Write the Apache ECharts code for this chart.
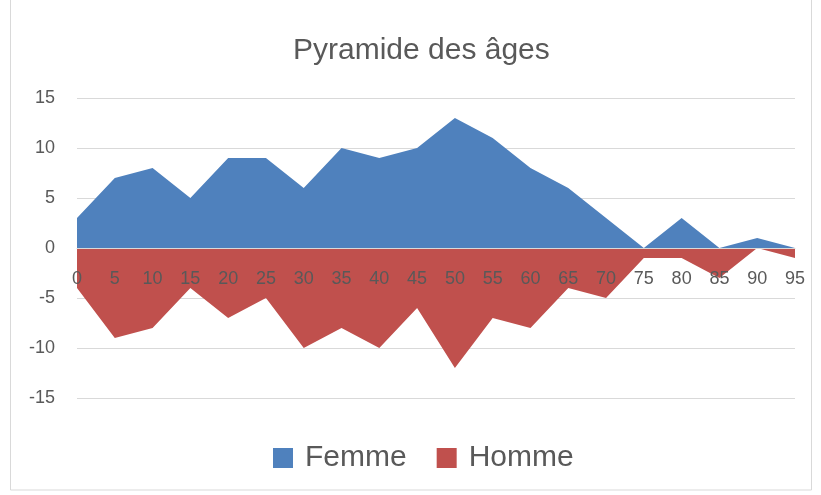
<!DOCTYPE html>
<html>
<head>
<meta charset="utf-8">
<script src="https://cdn.jsdelivr.net/npm/echarts@6/dist/echarts.min.js"></script>
<style>
  html, body { margin: 0; padding: 0; background: #fff; }
  #chart { width: 821px; height: 495px; }
</style>
</head>
<body>
<div id="chart"></div>
<script>
// age groups on the x axis
const ages = ['0', '5', '10', '15', '20', '25', '30', '35', '40', '45',
  '50', '55', '60', '65', '70', '75', '80', '85', '90', '95'];
const femme = [3, 7, 8, 5, 9, 9, 6, 10, 9, 10, 13, 11, 8, 6, 3, 0, 3, 0, 1, 0];
const homme = [-4, -9, -8, -4, -7, -5, -10, -8, -10, -6, -12, -7, -8, -4, -5, -1, -1, -3, 0, -1];

const font = 'Liberation Sans, Noto Sans, sans-serif';
const textColor = '#595959';

const chart = echarts.init(document.getElementById('chart'));
chart.setOption({
  animation: false,
  title: {
    text: 'Pyramide des âges',
    left: 288,
    top: 31,
    textStyle: { fontFamily: font, fontSize: 30, fontWeight: 'normal', color: textColor }
  },
  legend: {
    bottom: 17,
    left: 268,
    icon: 'rect',
    itemWidth: 20,
    itemHeight: 20,
    itemGap: 30,
    textStyle: { fontFamily: font, fontSize: 30, color: textColor, padding: [0, 0, 0, 7] },
    data: ['Femme', 'Homme']
  },
  grid: { left: 77, right: 26, top: 98, bottom: 97 },
  graphic: [{
    type: 'rect',
    shape: { x: 10.5, y: -1, width: 801, height: 491 },
    style: { fill: 'none', stroke: '#d9d9d9', lineWidth: 1 },
    silent: true
  }],
  xAxis: {
    type: 'category',
    data: ages,
    boundaryGap: false,
    z: 10,
    // zero line sits 150px above the bottom of the plot
    offset: -150,
    axisLine: { onZero: false, lineStyle: { color: '#d9d9d9', width: 1 } },
    axisTick: { show: false },
    axisLabel: { fontFamily: font, fontSize: 18, color: textColor, margin: 22, interval: 0 },
    splitLine: { show: false }
  },
  yAxis: {
    type: 'value',
    min: -15,
    max: 15,
    interval: 5,
    axisLine: { show: false },
    axisTick: { show: false },
    axisLabel: { fontFamily: font, fontSize: 18, color: textColor, margin: 22 },
    splitLine: { lineStyle: { color: '#d9d9d9', width: 1 } }
  },
  series: [
    {
      name: 'Femme',
      type: 'line',
      data: femme,
      symbol: 'none',
      lineStyle: { width: 0 },
      itemStyle: { color: '#4f81bd' },
      areaStyle: { color: '#4f81bd', opacity: 1 }
    },
    {
      name: 'Homme',
      type: 'line',
      data: homme,
      symbol: 'none',
      lineStyle: { width: 0 },
      itemStyle: { color: '#c0504d' },
      areaStyle: { color: '#c0504d', opacity: 1 }
    }
  ]
});
</script>
</body>
</html>
